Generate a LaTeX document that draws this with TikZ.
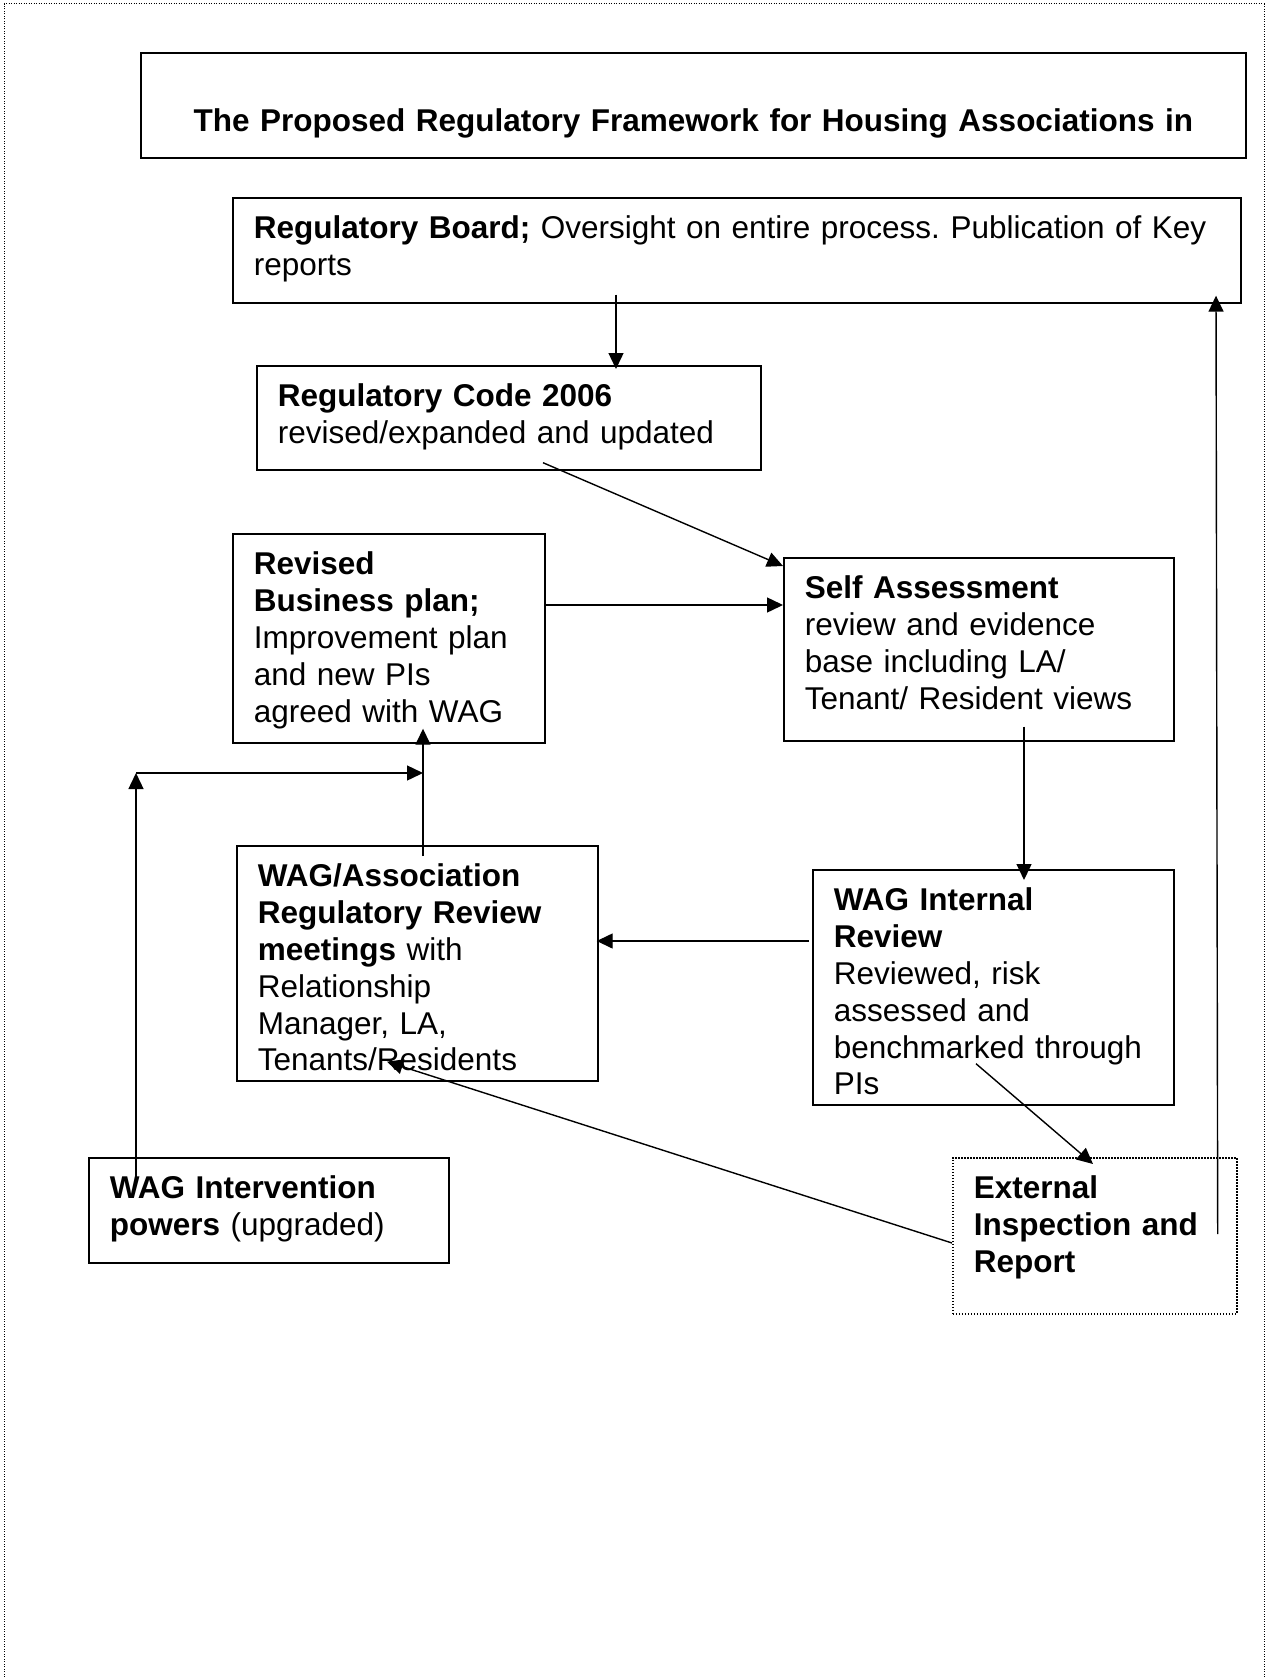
\documentclass[tikz,border=0pt]{standalone}
\usepackage{fontspec}
\setmainfont{Liberation Sans}
\usetikzlibrary{arrows.meta,calc}

\begin{document}
\begin{tikzpicture}[x=1pt, y=-1pt,
    box/.style={draw, line width=1.7pt, anchor=north west, align=left,
      inner xsep=21pt, inner ysep=18pt, text height=23pt,
      font=\fontsize{31.5}{36.8}\selectfont\frenchspacing},
    arr/.style={-{Triangle[length=16pt,width=15pt]}, line width=1.4pt}]
      \useasboundingbox (0,0) rectangle (1265,1677);
      \draw [line width=1pt, dash pattern=on 1pt off 1.5pt] (4,1677) -- (4,4) -- (1264,4) -- (1264,1677);

      \node [box, align=center, text width=1063pt, text height=61pt, text depth=8pt] (title) at (140,52)
        {\textbf{The Proposed Regulatory Framework for Housing Associations in}};
      \node [box, text width=966pt, text depth=46pt] (board) at (232,197)
        {\mbox{\textbf{Regulatory Board;} Oversight on entire process. Publication of Key}\\reports};
      \node [box, text width=462pt, text depth=45pt] (code) at (256,365)
        {\textbf{Regulatory Code 2006}\\revised/expanded and updated};
      \node [box, text width=270pt, text depth=150pt] (bplan) at (232,533)
        {\textbf{Revised}\\\textbf{Business plan;}\\Improvement plan\\and new PIs\\agreed with WAG};
      \node [box, text width=348pt, text depth=124pt] (self) at (783,557)
        {\textbf{Self Assessment}\\review and evidence\\base including LA/\\Tenant/ Resident views};
      \node [box, text width=319pt, text depth=176pt] (review) at (236,845)
        {\textbf{WAG/Association}\\\textbf{Regulatory Review}\\\textbf{meetings} with\\Relationship\\Manager, LA,\\Tenants/Residents};
      \node [box, text width=319pt, text depth=176pt] (internal) at (812,869)
        {\textbf{WAG Internal}\\\textbf{Review}\\Reviewed, risk\\assessed and\\benchmarked through\\PIs};
      \node [box, text width=318pt, text depth=46pt] (powers) at (88,1157)
        {\textbf{WAG Intervention}\\\textbf{powers} (upgraded)};
      \node [box, dash pattern=on 1.5pt off 1.5pt, text width=242pt, text depth=97pt] (external) at (952,1157)
        {\textbf{External}\\\textbf{Inspection and}\\\textbf{Report}};

      \coordinate (rv) at ($(review.north west)+(187,11)$);
      \coordinate (elbow) at ($(powers.north west)+(48,-384)$);

      \draw [arr] ($(board.south west)+(384,-9)$) -- ($(code.north west)+(360,4)$);
      \draw [arr] ($(code.south west)+(287,-8)$) -- ($(self.north west)+(0,9)$);
      \draw [arr] ($(bplan.north east)+(0,72)$) -- ($(self.north west)+(0,48)$);
      \draw [arr] ($(self.south west)+(241,-15)$) -- ($(internal.north west)+(212,11)$);
      \draw [arr] ($(internal.north west)+(-3,72)$) -- ($(review.north east)+(-2,96)$);
      \draw [arr] (rv) -- ($(bplan.south west)+(191,-15)$);
      \draw [arr] ($(powers.north west)+(48,23)$) -- (elbow);
      \draw [arr] (elbow) -- (elbow -| rv);
      \draw [arr] ($(internal.south west)+(164,-42)$) -- ($(external.north west)+(141,7)$);
      \draw [arr] ($(external.north west)+(0,86)$) -- ($(review.south west)+(151,-20)$);
      \draw [arr] ($(external.north east)+(-20,77)$) -- ($(board.south west)+(984,-8)$);
    \end{tikzpicture}
\end{document}
